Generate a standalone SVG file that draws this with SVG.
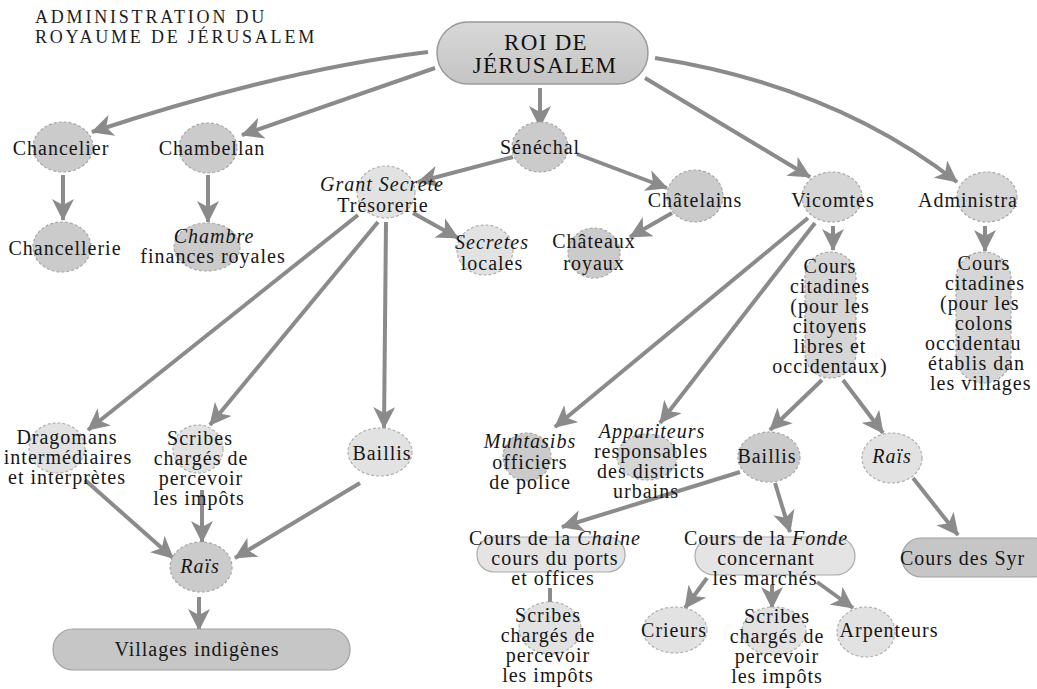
<svg xmlns="http://www.w3.org/2000/svg" width="1037" height="689" viewBox="0 0 1037 689">
<style>
.bg{fill:#ffffff}
.d{fill:#cbcbcb;stroke:#a8a8a8;stroke-width:1.2;stroke-dasharray:3 2}
.m{fill:#d6d6d6;stroke:#a8a8a8;stroke-width:1.2;stroke-dasharray:3 2}
.l{fill:#e2e2e2;stroke:#b0b0b0;stroke-width:1.2;stroke-dasharray:3 2}
.pd{fill:#c6c6c6;stroke:#a0a0a0;stroke-width:1.2}
.pl{fill:#e4e4e4;stroke:#aaaaaa;stroke-width:1.2}
.t{font-family:"Liberation Serif","Times New Roman",serif;font-size:20px;letter-spacing:1px;fill:#161616;text-anchor:middle}
.s{text-anchor:start}
.i{font-style:italic}
.ti{font-family:"Liberation Serif","Times New Roman",serif;font-size:18px;letter-spacing:2.8px;fill:#1c1c1c}
.k{font-family:"Liberation Serif","Times New Roman",serif;font-size:23px;letter-spacing:1.3px;fill:#111;text-anchor:middle}
.c{fill:none;stroke:#8b8b8b;stroke-width:4;marker-end:url(#ah)}
.cn{fill:none;stroke:#8b8b8b;stroke-width:4}
</style>
<defs>
<marker id="ah" viewBox="0 0 22 22" refX="21" refY="11" markerWidth="22" markerHeight="22" markerUnits="userSpaceOnUse" orient="auto">
<path d="M0,0 L22,11 L0,22 L6,11 z" fill="#8b8b8b"/>
</marker>
<linearGradient id="kg" x1="0" y1="0" x2="0" y2="1">
<stop offset="0" stop-color="#d8d8d8"/>
<stop offset="1" stop-color="#c4c4c4"/>
</linearGradient>
</defs>
<rect class="bg" x="0" y="0" width="1037" height="689"/>

<g id="title">
<text class="ti" x="35" y="23">ADMINISTRATION DU</text>
<text class="ti" x="35" y="43">ROYAUME DE JÉRUSALEM</text>
</g>

<g id="connectors">
<path class="c" d="M428,52 Q280,70 92,132"/>
<path class="c" d="M435,68 L242,135"/>
<path class="c" d="M540,88 L540,127"/>
<path class="c" d="M645,78 L810,177"/>
<path class="c" d="M655,58 Q834,86 957,182"/>
<path class="c" d="M63,175 L63,220"/>
<path class="c" d="M208,175 L208,222"/>
<path class="c" d="M513,157 L418,182"/>
<path class="c" d="M577,154 L667,188"/>
<path class="c" d="M413,213 L458,238"/>
<path class="c" d="M672,213 L630,237"/>
<path class="c" d="M833,226 L833,250"/>
<path class="c" d="M985,226 L985,251"/>
<path class="c" d="M358,215 L88,430"/>
<path class="c" d="M378,222 L210,425"/>
<path class="c" d="M386,222 L384,428"/>
<path class="c" d="M85,480 L173,558"/>
<path class="c" d="M202,490 L202,542"/>
<path class="c" d="M360,483 L235,558"/>
<path class="c" d="M199,597 L199,630"/>
<path class="c" d="M808,218 L555,427"/>
<path class="c" d="M815,223 L660,423"/>
<path class="c" d="M822,380 L770,430"/>
<path class="c" d="M843,380 L883,433"/>
<path class="c" d="M740,472 L562,527"/>
<path class="c" d="M775,483 L790,532"/>
<path class="c" d="M913,478 L958,535"/>
<path class="c" d="M707,578 L685,608"/>
<path class="c" d="M772,585 L772,608"/>
<path class="c" d="M817,582 L853,608"/>
<path class="cn" d="M550,588 L550,602"/>
</g>

<g id="roi">
<rect x="437" y="22" width="211" height="62" rx="31" fill="url(#kg)" stroke="#9a9a9a" stroke-width="1.5"/>
<text class="k" x="546" y="50">ROI DE</text>
<text class="k" x="545" y="73">JÉRUSALEM</text>
</g>

<g id="chancelier"><ellipse class="d" cx="63" cy="147" rx="30" ry="25"/><text class="t" x="61" y="155">Chancelier</text></g>
<g id="chancellerie"><ellipse class="d" cx="62" cy="247" rx="29" ry="25"/><text class="t" x="65" y="255">Chancellerie</text></g>
<g id="chambellan"><ellipse class="d" cx="208" cy="148" rx="29" ry="25"/><text class="t" x="212" y="155">Chambellan</text></g>
<g id="chambre"><ellipse class="d" cx="207" cy="247" rx="33" ry="24"/><text class="t i" x="214" y="243">Chambre</text><text class="t" x="213" y="263">finances royales</text></g>
<g id="senechal"><ellipse class="d" cx="540" cy="147" rx="28" ry="25"/><text class="t" x="540" y="154">Sénéchal</text></g>
<g id="grant-secrete"><ellipse class="l" cx="386" cy="192" rx="29" ry="26"/><text class="t i" x="382" y="191">Grant Secrete</text><text class="t" x="383" y="212">Trésorerie</text></g>
<g id="secretes-locales"><ellipse class="l" cx="485" cy="250" rx="28" ry="25"/><text class="t i" x="492" y="249">Secretes</text><text class="t" x="492" y="270">locales</text></g>
<g id="chatelains"><ellipse class="d" cx="695" cy="196" rx="28" ry="26"/><text class="t" x="695" y="207">Châtelains</text></g>
<g id="chateaux"><ellipse class="d" cx="594" cy="253" rx="26" ry="25"/><text class="t" x="594" y="248">Châteaux</text><text class="t" x="594" y="270">royaux</text></g>
<g id="vicomtes"><ellipse class="m" cx="832" cy="197" rx="30" ry="25"/><text class="t" x="833" y="207">Vicomtes</text></g>
<g id="administra"><ellipse class="m" cx="987" cy="197" rx="30" ry="25"/><text class="t s" x="918" y="207">Administra</text></g>

<g id="cours-citadines-v"><rect class="m" x="805" y="252" width="51" height="126" rx="25"/>
<text class="t" x="830" y="273">Cours</text><text class="t" x="830" y="293">citadines</text><text class="t" x="830" y="313">(pour les</text><text class="t" x="830" y="333">citoyens</text><text class="t" x="830" y="353">libres et</text><text class="t" x="830" y="373">occidentaux)</text></g>

<g id="cours-citadines-a"><rect class="m" x="956" y="252" width="55" height="131" rx="27"/>
<text class="t" x="984" y="270">Cours</text><text class="t" x="985" y="290">citadines</text><text class="t s" x="940" y="310">(pour les</text><text class="t" x="984" y="330">colons</text><text class="t s" x="925" y="350">occidentau</text><text class="t s" x="928" y="370">établis dan</text><text class="t s" x="930" y="390">les villages</text></g>

<g id="dragomans"><ellipse class="l" cx="57" cy="448" rx="28" ry="25"/><text class="t" x="67" y="444">Dragomans</text><text class="t" x="68" y="464">intermédiaires</text><text class="t" x="67" y="484">et interprètes</text></g>
<g id="scribes-1"><ellipse class="l" cx="198" cy="449" rx="25" ry="24"/><text class="t" x="200" y="445">Scribes</text><text class="t" x="201" y="465">chargés de</text><text class="t" x="201" y="485">percevoir</text><text class="t" x="199" y="505">les impôts</text></g>
<g id="baillis-1"><ellipse class="l" cx="380" cy="452" rx="32" ry="24"/><text class="t" x="382" y="460">Baillis</text></g>
<g id="rais-1"><ellipse class="d" cx="201" cy="567" rx="31" ry="25"/><text class="t i" x="200" y="573">Raïs</text></g>
<g id="villages"><rect class="pd" x="53" y="629" width="297" height="41" rx="20"/><text class="t" x="197" y="656">Villages indigènes</text></g>

<g id="muhtasibs"><ellipse class="d" cx="527" cy="457" rx="24" ry="24"/><text class="t i" x="530" y="448">Muhtasibs</text><text class="t" x="530" y="469">officiers</text><text class="t" x="530" y="489">de police</text></g>
<g id="appariteurs"><ellipse class="m" cx="647" cy="457" rx="30" ry="23"/><text class="t i" x="652" y="438">Appariteurs</text><text class="t" x="651" y="458">responsables</text><text class="t" x="651" y="478">des districts</text><text class="t" x="646" y="498">urbains</text></g>
<g id="baillis-2"><ellipse class="d" cx="769" cy="457" rx="31" ry="25"/><text class="t" x="767" y="463">Baillis</text></g>
<g id="rais-2"><ellipse class="l" cx="892" cy="458" rx="30" ry="25"/><text class="t i" x="892" y="463">Raïs</text></g>

<g id="cours-chaine"><rect class="pl" x="477" y="537" width="148" height="35" rx="17"/><text class="t" x="555" y="545">Cours de la <tspan class="i">Chaine</tspan></text><text class="t" x="555" y="565">cours du ports</text><text class="t" x="553" y="585">et offices</text></g>
<g id="cours-fonde"><rect class="pl" x="695" y="537" width="160" height="38" rx="19"/><text class="t" x="766" y="545">Cours de la <tspan class="i">Fonde</tspan></text><text class="t" x="766" y="565">concernant</text><text class="t" x="765" y="585">les marchés</text></g>
<g id="cours-syr"><rect class="pd" x="902" y="538" width="150" height="39" rx="19"/><text class="t s" x="900" y="565">Cours des Syr</text></g>

<g id="scribes-2"><ellipse class="l" cx="550" cy="628" rx="31" ry="26"/><text class="t" x="548" y="622">Scribes</text><text class="t" x="548" y="642">chargés de</text><text class="t" x="548" y="662">percevoir</text><text class="t" x="548" y="682">les impôts</text></g>
<g id="crieurs"><ellipse class="l" cx="675" cy="630" rx="32" ry="23"/><text class="t" x="674" y="637">Crieurs</text></g>
<g id="scribes-3"><ellipse class="l" cx="774" cy="631" rx="32" ry="24"/><text class="t" x="777" y="623">Scribes</text><text class="t" x="777" y="643">chargés de</text><text class="t" x="777" y="663">percevoir</text><text class="t" x="777" y="683">les impôts</text></g>
<g id="arpenteurs"><ellipse class="l" cx="866" cy="632" rx="29" ry="25"/><text class="t" x="889" y="637">Arpenteurs</text></g>
</svg>
